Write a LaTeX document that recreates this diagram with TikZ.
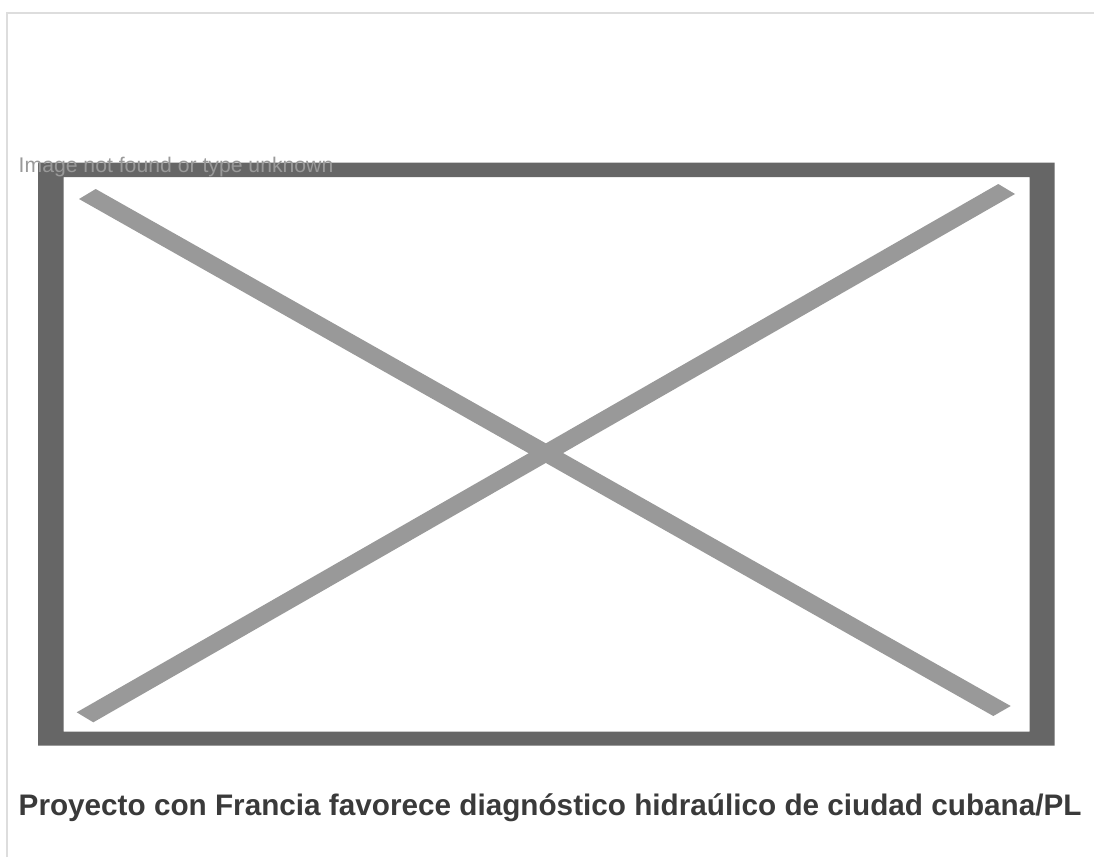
\documentclass[tikz,border=0pt]{standalone}
\usepackage{fontspec}
\setmainfont{Liberation Sans}
\definecolor{pagerule}{RGB}{221,221,221}
\definecolor{framegray}{RGB}{102,102,102}
\definecolor{crossgray}{RGB}{153,153,153}
\definecolor{titlegray}{RGB}{58,58,58}
\tikzset{
  missingtext/.style={anchor=base west, inner sep=0pt, text=crossgray, font=\fontsize{21.2}{24}\selectfont},
  captiontext/.style={anchor=base west, inner sep=0pt, text=titlegray, font=\fontsize{29.7}{33}\selectfont\bfseries},
  band/.style={fill=crossgray}
}
\begin{document}
\begin{tikzpicture}[x=1pt,y=-1pt]
\useasboundingbox (0,0) rectangle (1094,857);

% Page rules at the top and on the left
\draw [pagerule, line width=2pt] (7,857) -- (7,13) -- (1094,13);

% Frame of the missing image
\fill [framegray, even odd rule] (38,162.5) rectangle (1054.5,745.5) (63.5,177) rectangle (1029.5,731.5);

% Corners of the two bands of the cross
\coordinate (tl1) at (79,199);
\coordinate (tl2) at (95.7,189);
\coordinate (br1) at (1010.7,706);
\coordinate (br2) at (993.3,716);
\coordinate (bl1) at (76.7,712.3);
\coordinate (bl2) at (93.3,722.3);
\coordinate (tr1) at (1015,194);
\coordinate (tr2) at (998.3,184);

% The cross
\fill [band] (tl1)--(tl2)--(br1)--(br2)--cycle;
\fill [band] (bl1)--(bl2)--(tr1)--(tr2)--cycle;

% Texts
\node [missingtext] (missing) at (18.5,172.3) {Image not found or type unknown};
\node [captiontext] (caption) at (18.5,815) {Proyecto con Francia favorece diagnóstico hidraúlico de ciudad cubana/PL};

\end{tikzpicture}
\end{document}
